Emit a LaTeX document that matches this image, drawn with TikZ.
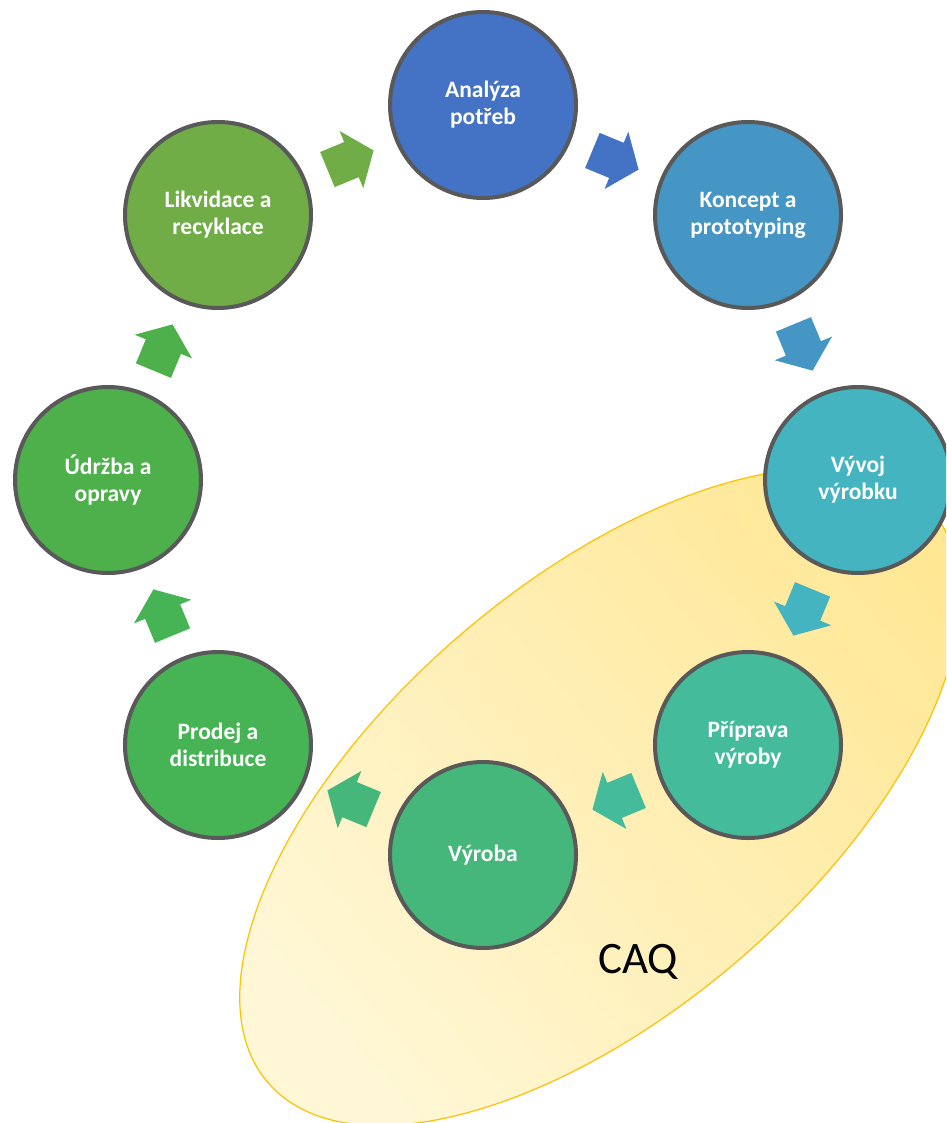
\documentclass[tikz,border=0pt]{standalone}
\usepackage{fontspec}
\setmainfont{Carlito}
\usetikzlibrary{calc,shapes.geometric}
\definecolor{cA}{HTML}{4472C4}
\definecolor{cB}{HTML}{4596C4}
\definecolor{cC}{HTML}{44B4C0}
\definecolor{cD}{HTML}{44BC9C}
\definecolor{cE}{HTML}{45B77A}
\definecolor{cF}{HTML}{46B455}
\definecolor{cG}{HTML}{4DB04A}
\definecolor{cH}{HTML}{70AD47}
\definecolor{ringgray}{HTML}{595959}
\definecolor{gold}{HTML}{FFC000}
\definecolor{ylight}{HTML}{FFF7D6}
\definecolor{ydark}{HTML}{FFE794}
\tikzset{
  stage/.style={circle, draw=ringgray, line width=4pt, minimum size=186pt, inner sep=0pt,
    text=white, font=\fontsize{23.5}{27}\selectfont\bfseries, align=center},
  blockarrow/.pic={\fill[#1] (-25,19) -- (1,19) -- (1,31) -- (25,0) -- (1,-31) -- (1,-19) -- (-25,-19) -- cycle;},
  caqarea/.style={ellipse, draw=gold, line width=1.2pt, minimum width=876pt, minimum height=428pt,
    inner sep=0pt, left color=ylight, right color=ydark, shading angle=130.7}
}
\begin{document}
\begin{tikzpicture}[x=1pt,y=1pt]
\clip (0,0) rectangle (946,-1123);
\useasboundingbox (0,0) rectangle (946,-1123);
\node[caqarea, rotate=40.7] (area) at (600,-797) {};
\node[anchor=base, font=\fontsize{45}{54}\selectfont] (caq) at (638,-973) {CAQ};
\node[stage, fill=cA] (s1) at (483,-105) {Analýza\\potřeb};
\node[stage, fill=cB] (s2) at (748,-215) {Koncept a\\prototyping};
\node[stage, fill=cC] (s3) at (858,-480) {Vývoj\\výrobku};
\node[stage, fill=cD] (s4) at (748,-745) {Příprava\\výroby};
\node[stage, fill=cE] (s5) at (483,-855) {Výroba};
\node[stage, fill=cF] (s6) at (218,-745) {Prodej a\\distribuce};
\node[stage, fill=cG] (s7) at (108,-480) {Údržba a\\opravy};
\node[stage, fill=cH] (s8) at (218,-215) {Likvidace a\\recyklace};
\pic[rotate=-22.5] at ($(s1)!0.5!(s2)$) {blockarrow=cA};
\pic[rotate=-67.5] at ($(s2)!0.5!(s3)$) {blockarrow=cB};
\pic[rotate=-112.5] at ($(s3)!0.5!(s4)$) {blockarrow=cC};
\pic[rotate=-157.5] at ($(s4)!0.5!(s5)$) {blockarrow=cD};
\pic[rotate=157.5] at ($(s5)!0.5!(s6)$) {blockarrow=cE};
\pic[rotate=112.5] at ($(s6)!0.5!(s7)$) {blockarrow=cF};
\pic[rotate=67.5] at ($(s7)!0.5!(s8)$) {blockarrow=cG};
\pic[rotate=22.5] at ($(s8)!0.5!(s1)$) {blockarrow=cH};
\end{tikzpicture}
\end{document}
